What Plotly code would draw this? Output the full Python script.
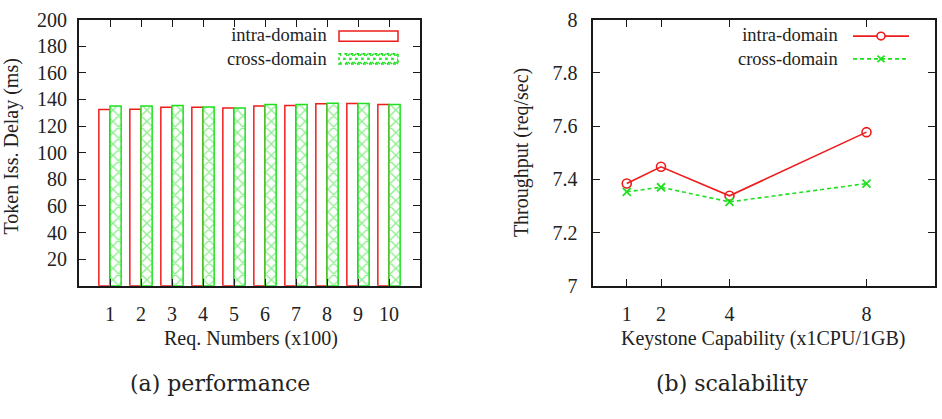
import plotly.graph_objects as go

# ---------------- data ----------------
req_numbers = [1, 2, 3, 4, 5, 6, 7, 8, 9, 10]
delay_intra = [132.4, 132.6, 134.1, 134.1, 133.6, 135.0, 135.5, 136.7, 136.9, 136.2]
delay_cross = [135.0, 135.0, 135.5, 134.3, 133.6, 136.2, 136.2, 137.1, 136.9, 136.2]

capability = [1, 2, 4, 8]
thr_intra = [7.384, 7.447, 7.338, 7.577]
thr_cross = [7.353, 7.370, 7.315, 7.384]

delay_ticks = [20, 40, 60, 80, 100, 120, 140, 160, 180, 200]
thr_ticks = [7, 7.2, 7.4, 7.6, 7.8, 8]
thr_ticktext = ["7", "7.2", "7.4", "7.6", "7.8", "8"]

series_names = ["intra-domain", "cross-domain"]

# ---------------- style ----------------
W, H = 942, 419
RED = "#ee1c1c"
GREEN = "#1fe01f"
AX = "#1a1a1a"
FONT = "Liberation Serif"
TICKF = dict(family=FONT, size=20, color="#222")
TITLEF = dict(family=FONT, size=20, color="#222")
LEGF = dict(family=FONT, size=18.5, color="#222")
CAPF = dict(family="DejaVu Serif", size=22, color="#222")


def px(x):
    return x / W


def py(y):
    return (H - y) / H


fig = go.Figure()

fig.add_trace(go.Bar(
    x=req_numbers, y=delay_intra, name=series_names[0],
    marker=dict(color="white", line=dict(color=RED, width=1.5)),
    xaxis="x", yaxis="y", showlegend=False,
))
fig.add_trace(go.Bar(
    x=req_numbers, y=delay_cross, name=series_names[1],
    marker=dict(color="white", line=dict(color=GREEN, width=1.5),
                pattern=dict(shape="x", fgcolor=GREEN, bgcolor="white",
                             size=8, solidity=0.32, fillmode="overlay")),
    xaxis="x", yaxis="y", showlegend=False,
))

fig.add_trace(go.Scatter(
    x=capability, y=thr_intra, name=series_names[0], mode="lines+markers",
    line=dict(color=RED, width=1.6),
    marker=dict(symbol="circle-open", size=9, color=RED, line=dict(width=1.6)),
    xaxis="x2", yaxis="y2", showlegend=False,
))
fig.add_trace(go.Scatter(
    x=capability, y=thr_cross, name=series_names[1], mode="lines+markers",
    line=dict(color=GREEN, width=1.6, dash="4px,3px"),
    marker=dict(symbol="x-thin-open", size=8, color=GREEN, line=dict(width=1.8, color=GREEN)),
    xaxis="x2", yaxis="y2", showlegend=False,
))

axis_common = dict(
    showline=True, linecolor=AX, linewidth=2, mirror="ticks",
    ticks="inside", ticklen=7, tickwidth=1.2, tickcolor=AX,
    showgrid=False, zeroline=False, tickfont=TICKF,
    ticklabeloverflow="allow",
)

ydom = [py(290), py(9)]

fig.update_layout(
    width=W, height=H,
    margin=dict(l=0, r=0, t=0, b=0),
    paper_bgcolor="white", plot_bgcolor="white",
    barmode="group", bargap=0.28, bargroupgap=0.0,
    xaxis=dict(domain=[px(79), px(420)], range=[0, 11], tickvals=req_numbers,
               anchor="y", ticklabelstandoff=9, **axis_common),
    yaxis=dict(domain=ydom, range=[0, 200], tickvals=delay_ticks,
               anchor="x", ticklabelstandoff=6, **axis_common),
    xaxis2=dict(domain=[px(592.5), px(935)], range=[0, 10], tickvals=capability,
                anchor="y2", ticklabelstandoff=9, **axis_common),
    yaxis2=dict(domain=ydom, range=[7, 8], tickvals=thr_ticks, ticktext=thr_ticktext,
                anchor="x2", ticklabelstandoff=9, **axis_common),
)

L1, L2 = 26.5, 50.5

annotations = [
    dict(text="Req. Numbers (x100)", x=px(251), y=py(346), font=TITLEF),
    dict(text="Keystone Capability (x1CPU/1GB)", x=px(763), y=py(346), font=TITLEF),
    dict(text="Token Iss. Delay (ms)", x=px(11), y=py(143), font=TITLEF, textangle=-90),
    dict(text="Throughput (req/sec)", x=px(521), y=py(150), font=TITLEF, textangle=-90),
    dict(text="(a) performance", x=px(220), y=py(393), font=CAPF),
    dict(text="(b) scalability", x=px(732), y=py(393), font=CAPF),
]
# legend texts (one block per panel, right aligned)
legend_text = "<br>".join(series_names)
for xr in (329, 840):
    annotations.append(dict(text=legend_text, x=px(xr), y=py((L1 + L2) / 2), xanchor="right",
                            align="right", font=LEGF))

for a in annotations:
    a.setdefault("xanchor", "center")
    a.update(xref="paper", yref="paper", yanchor="middle", showarrow=False)
fig.update_layout(annotations=annotations)

shapes = []
# legend sample: red hollow box
shapes.append(dict(type="rect", xref="paper", yref="paper",
                   x0=px(339), x1=px(398), y0=py(L1 + 5.5), y1=py(L1 - 5.5),
                   line=dict(color=RED, width=1.5), fillcolor="white"))
# legend sample: green hatched box
gx0, gx1, gy0, gy1 = 339, 398, L2 - 5.5, L2 + 5.5
shapes.append(dict(type="rect", xref="paper", yref="paper",
                   x0=px(gx0), x1=px(gx1), y0=py(gy1), y1=py(gy0),
                   line=dict(color=GREEN, width=1.5, dash="dot"), fillcolor="white"))
path = ""
step = 6
xx = gx0
while xx < gx1:
    xa, xb = xx, min(xx + (gy1 - gy0), gx1)
    path += f"M{px(xa)},{py(gy0)} L{px(xb)},{py(gy0 + (xb - xa))} "
    path += f"M{px(xa)},{py(gy1)} L{px(xb)},{py(gy1 - (xb - xa))} "
    xx += step
shapes.append(dict(type="path", xref="paper", yref="paper", path=path,
                   line=dict(color=GREEN, width=1.3, dash="dot")))
# legend sample: red line with circle
shapes.append(dict(type="line", xref="paper", yref="paper",
                   x0=px(853), x1=px(909), y0=py(L1), y1=py(L1),
                   line=dict(color=RED, width=1.6)))
shapes.append(dict(type="circle", xref="paper", yref="paper",
                   x0=px(877), x1=px(885), y0=py(L1 + 4), y1=py(L1 - 4),
                   line=dict(color=RED, width=1.6), fillcolor="white"))
# legend sample: green dashed line with x
shapes.append(dict(type="line", xref="paper", yref="paper",
                   x0=px(853), x1=px(909), y0=py(L2), y1=py(L2),
                   line=dict(color=GREEN, width=1.6, dash="4px,3px")))
shapes.append(dict(type="path", xref="paper", yref="paper",
                   path=(f"M{px(877.5)},{py(L2 - 3.5)} L{px(884.5)},{py(L2 + 3.5)} "
                         f"M{px(877.5)},{py(L2 + 3.5)} L{px(884.5)},{py(L2 - 3.5)}"),
                   line=dict(color=GREEN, width=1.8)))
fig.update_layout(shapes=shapes)

fig.write_html("out.html")
